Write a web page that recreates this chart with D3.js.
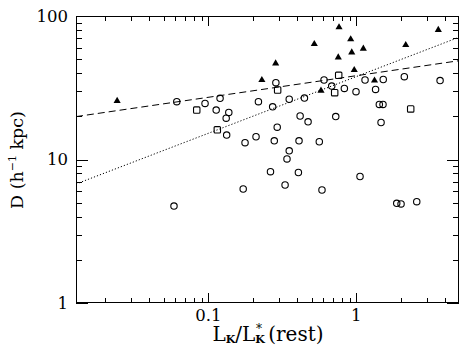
<!DOCTYPE html>
<html>
<head>
<meta charset="utf-8">
<script src="https://cdn.jsdelivr.net/npm/d3@7"></script>
<style>
  html, body { margin: 0; padding: 0; background: #fff; }
  svg { display: block; }
  text { font-family: "DejaVu Serif", "Liberation Serif", serif; fill: #000; }
</style>
</head>
<body>
<svg id="chart" width="476" height="357"></svg>
<script>
// ---- Data ----
// Open circles
const circleL = [0.0612, 0.095, 0.113, 0.120, 0.1375, 0.132, 0.133, 0.177, 0.210, 0.279, 0.292,
  0.218, 0.272, 0.286, 0.352, 0.446, 0.417, 0.472, 0.410, 0.562, 0.352, 0.340, 0.263, 0.406,
  0.330, 0.172, 0.586, 1.059, 0.0586, 1.875, 2.005, 2.56, 0.605, 0.682, 0.830, 0.995, 1.145,
  1.52, 2.11, 3.68, 1.349, 1.43, 1.514, 1.469, 0.726];
const circleD = [25.3, 24.6, 22.1, 26.7, 21.3, 19.4, 14.8, 13.1, 14.4, 13.5, 16.8,
  25.3, 23.3, 34.3, 26.3, 26.8, 20.1, 18.3, 13.5, 13.3, 11.5, 10.1, 8.22, 8.12,
  6.64, 6.23, 6.13, 7.61, 4.74, 4.95, 4.90, 5.08, 35.8, 32.5, 31.3, 29.7, 35.8,
  36.1, 37.8, 35.5, 30.8, 24.2, 24.2, 18.1, 19.9];
// Open squares
const squareL = [0.0835, 0.760, 0.714, 2.33, 0.115, 0.294];
const squareD = [22.1, 38.6, 29.2, 22.5, 16.1, 30.5];
// Filled triangles
const triangleL = [0.0242, 0.230, 0.285, 0.520, 0.764, 0.755, 0.916, 0.931, 1.115, 0.968, 2.157, 3.58, 1.327, 0.577];
const triangleD = [25.6, 35.8, 46.8, 63.8, 83.4, 51.5, 68.8, 55.8, 59.2, 42.0, 62.8, 79.9, 35.5, 30.2];
// Fitted lines (end points)
const dashedL = [0.01276, 4.94];
const dashedD = [19.9, 48.8];
const dottedL = [0.01276, 4.94];
const dottedD = [6.75, 71.1];
// Axis ticks
const xMajorTicks = [0.1, 1];
const xTickLabels = ["0.1", "1"];
const xMinorTicks = [0.02,0.03,0.04,0.05,0.06,0.07,0.08,0.09,0.2,0.3,0.4,0.5,0.6,0.7,0.8,0.9,2,3,4];
const yMajorTicks = [1, 10, 100];
const yTickLabels = ["1", "10", "100"];
const yMinorTicks = [2,3,4,5,6,7,8,9,20,30,40,50,60,70,80,90];

// ---- Layout ----
const L = 76, R = 459, T = 16, B = 303;
const svg = d3.select("#chart");
const x = d3.scaleLog().domain([0.01276, 4.94]).range([L, R]);
const y = d3.scaleLog().domain([1, 100]).range([B, T]);

const g = svg.append("g");

// Fit lines
const line = d3.line().x(d => x(d[0])).y(d => y(d[1]));
g.append("path")
  .attr("d", line(dashedL.map((v, i) => [v, dashedD[i]])))
  .attr("fill", "none").attr("stroke", "#000").attr("stroke-width", 1)
  .attr("stroke-dasharray", "7,4");
g.append("path")
  .attr("d", line(dottedL.map((v, i) => [v, dottedD[i]])))
  .attr("fill", "none").attr("stroke", "#000").attr("stroke-width", 1)
  .attr("stroke-dasharray", "1.2,2");

// Circles
g.selectAll("circle.pt").data(circleL.map((v, i) => [v, circleD[i]])).join("circle")
  .attr("class", "pt")
  .attr("cx", d => x(d[0])).attr("cy", d => y(d[1])).attr("r", 3.2)
  .attr("fill", "none").attr("stroke", "#000").attr("stroke-width", 1.1);

// Squares
const sq = 6.4;
g.selectAll("rect.pt").data(squareL.map((v, i) => [v, squareD[i]])).join("rect")
  .attr("class", "pt")
  .attr("x", d => x(d[0]) - sq / 2).attr("y", d => y(d[1]) - sq / 2)
  .attr("width", sq).attr("height", sq).attr("rx", 1)
  .attr("fill", "none").attr("stroke", "#000").attr("stroke-width", 1.1);

// Triangles
const tri = d3.symbol().type(d3.symbolTriangle).size(22);
g.selectAll("path.tri").data(triangleL.map((v, i) => [v, triangleD[i]])).join("path")
  .attr("class", "tri")
  .attr("transform", d => `translate(${x(d[0])},${y(d[1])})`)
  .attr("d", tri).attr("fill", "#000");

// Frame
svg.append("rect").attr("x", L + 0.5).attr("y", T + 0.5)
  .attr("width", R - L - 1).attr("height", B - T - 1)
  .attr("fill", "none").attr("stroke", "#000").attr("stroke-width", 1);

// Ticks (mirrored on all sides)
const axisG = svg.append("g").attr("stroke", "#000").attr("stroke-width", 1);
function xt(v, len) {
  const px = Math.round(x(v)) + 0.5;
  axisG.append("line").attr("x1", px).attr("x2", px).attr("y1", B).attr("y2", B - len);
  axisG.append("line").attr("x1", px).attr("x2", px).attr("y1", T).attr("y2", T + len);
}
function yt(v, len) {
  const py = Math.round(y(v)) + 0.5;
  axisG.append("line").attr("y1", py).attr("y2", py).attr("x1", L).attr("x2", L + len);
  axisG.append("line").attr("y1", py).attr("y2", py).attr("x1", R).attr("x2", R - len);
}
xMajorTicks.forEach(v => xt(v, 10));
xMinorTicks.forEach(v => xt(v, 5));
yMajorTicks.forEach(v => yt(v, 12));
yMinorTicks.forEach(v => yt(v, 6));

// Tick labels
svg.selectAll("text.xl").data(xMajorTicks).join("text")
  .attr("class", "xl").attr("x", d => x(d)).attr("y", 321)
  .attr("text-anchor", "middle").attr("font-size", 16.5)
  .text((d, i) => xTickLabels[i]);
svg.selectAll("text.yl").data(yMajorTicks).join("text")
  .attr("class", "yl").attr("x", 68).attr("y", d => y(d)).attr("dy", "0.36em")
  .attr("text-anchor", "end").attr("font-size", 16.5)
  .text((d, i) => yTickLabels[i]);

// X title: L_K / L*_K (rest)
const xt1 = svg.append("text").attr("x", 268).attr("y", 341)
  .attr("text-anchor", "middle").attr("font-size", 20);
xt1.append("tspan").text("L");
xt1.append("tspan").attr("font-size", 11).attr("font-weight", "bold").attr("dy", 2).text("K");
xt1.append("tspan").attr("dy", -2).text("/L");
xt1.append("tspan").attr("font-size", 11).attr("font-weight", "bold").attr("dy", 2).text("K");
xt1.append("tspan").attr("font-size", 12).attr("dx", -9).attr("dy", -10).text("*");
xt1.append("tspan").attr("dy", 8).text(" (rest)");

// Y title: D (h^-1 kpc)
const yt1 = svg.append("text")
  .attr("transform", "translate(23,160) rotate(-90)")
  .attr("text-anchor", "middle").attr("font-size", 17.5);
yt1.append("tspan").text("D (h");
yt1.append("tspan").attr("font-size", 11).attr("dy", -7).text("−1");
yt1.append("tspan").attr("dy", 7).text(" kpc)");
</script>
</body>
</html>
